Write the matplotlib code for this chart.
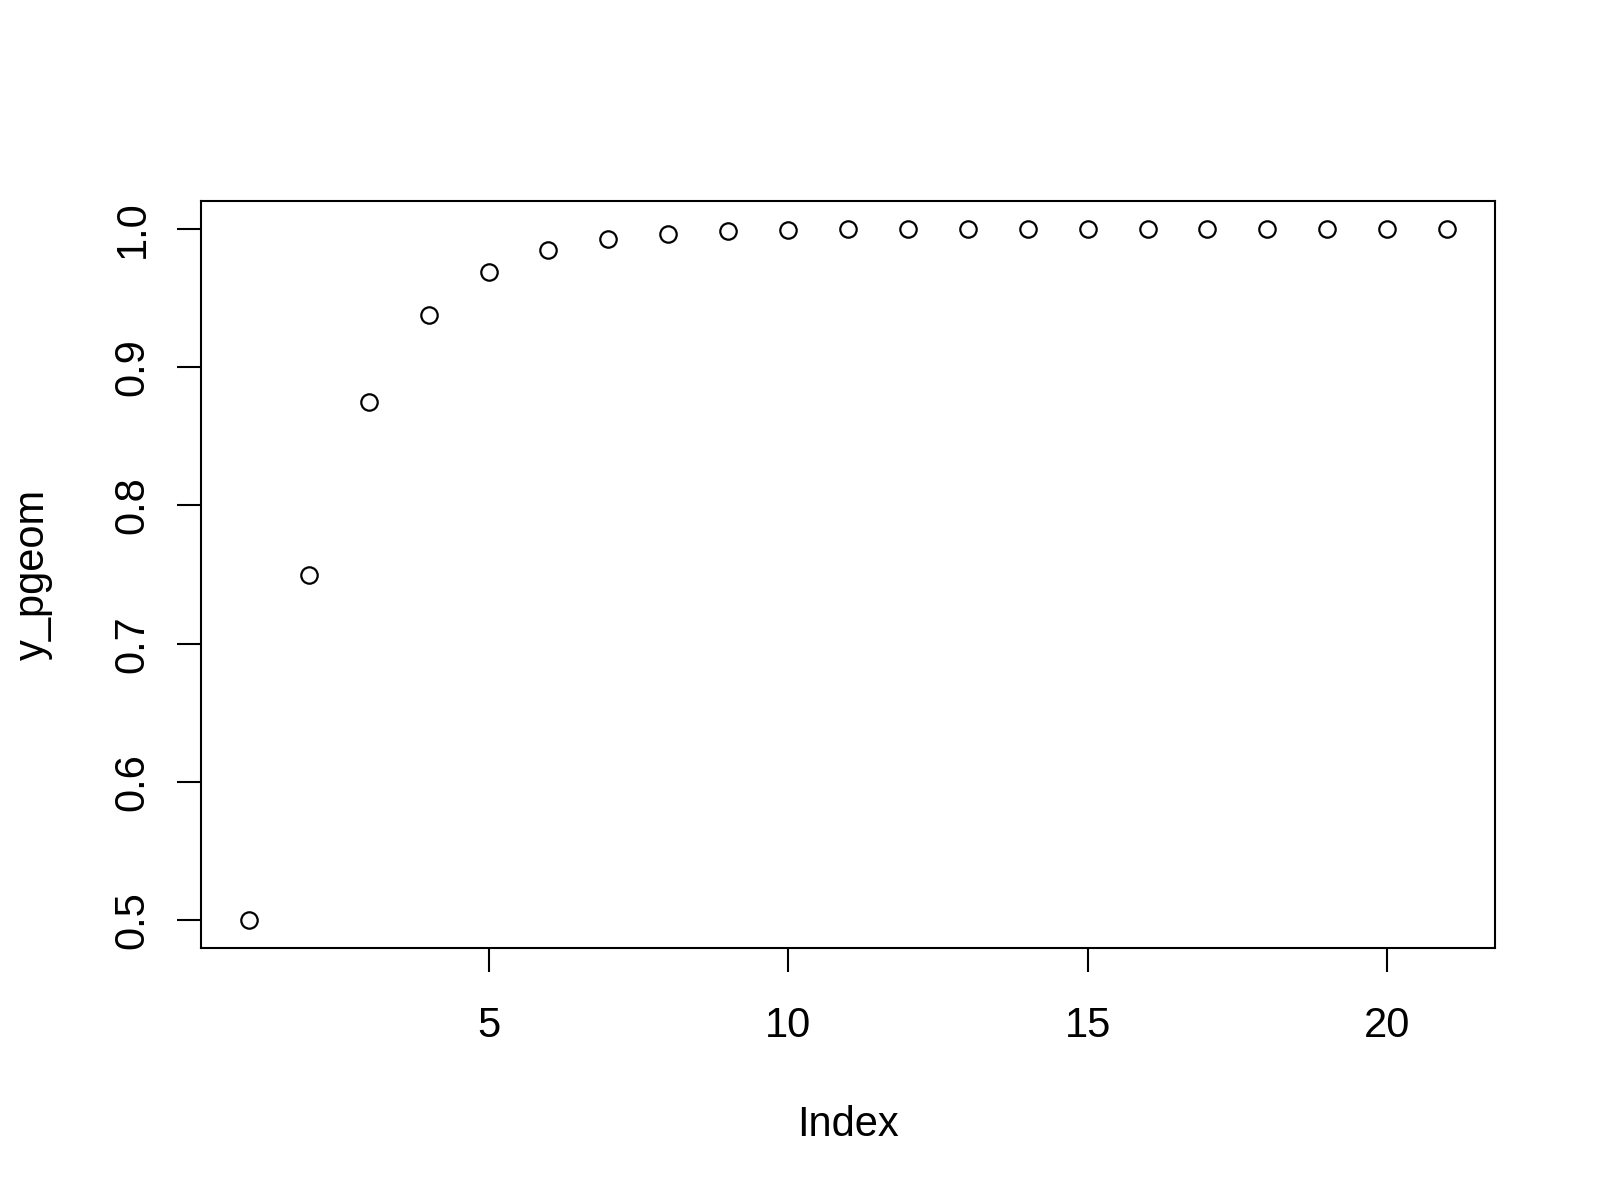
import matplotlib
matplotlib.use("Agg")
import matplotlib.pyplot as plt

plt.rcParams['font.family'] = ['Liberation Sans', 'DejaVu Sans']

# cumulative geometric probabilities, index 1..21
index = list(range(1, 22))
y_pgeom = [0.5, 0.75, 0.875, 0.9375, 0.96875, 0.984375, 0.9921875,
           0.99609375, 0.998046875, 0.9990234, 0.9995117, 0.9997559,
           0.9998779, 0.9999390, 0.9999695, 0.9999847, 0.9999924,
           0.9999962, 0.9999981, 0.9999990, 0.9999995]
x_ticks = [5, 10, 15, 20]
y_ticks = [0.5, 0.6, 0.7, 0.8, 0.9, 1.0]

fig = plt.figure(figsize=(16, 12), dpi=100)
ax = fig.add_axes([201 / 1600, 1 - 948 / 1200, 1294 / 1600, 747 / 1200])

ax.plot(index, y_pgeom, linestyle='none', marker='o', markersize=11.8,
        markerfacecolor='none', markeredgecolor='black', markeredgewidth=1.6)

ax.set_xlim(0.2, 21.8)
ax.set_ylim(0.48, 1.02)
ax.set_xticks(x_ticks)
ax.set_yticks(y_ticks)
ax.set_xticklabels([str(t) for t in x_ticks])
ax.set_yticklabels([f"{t:.1f}" for t in y_ticks])

for sp in ax.spines.values():
    sp.set_linewidth(1.5)

ax.tick_params(axis='both', direction='out', length=17, width=1.5,
               labelsize=30)
ax.tick_params(axis='x', pad=25)
ax.tick_params(axis='y', pad=18, labelrotation=90)
for lab in ax.get_yticklabels():
    lab.set_va('center')

ax.set_xlabel("Index", fontsize=30)
ax.set_ylabel("y_pgeom", fontsize=30)
ax.xaxis.set_label_coords(0.5, -0.21)
ax.yaxis.set_label_coords(-0.1144, 0.5)

fig.savefig("out.png", dpi=100)
